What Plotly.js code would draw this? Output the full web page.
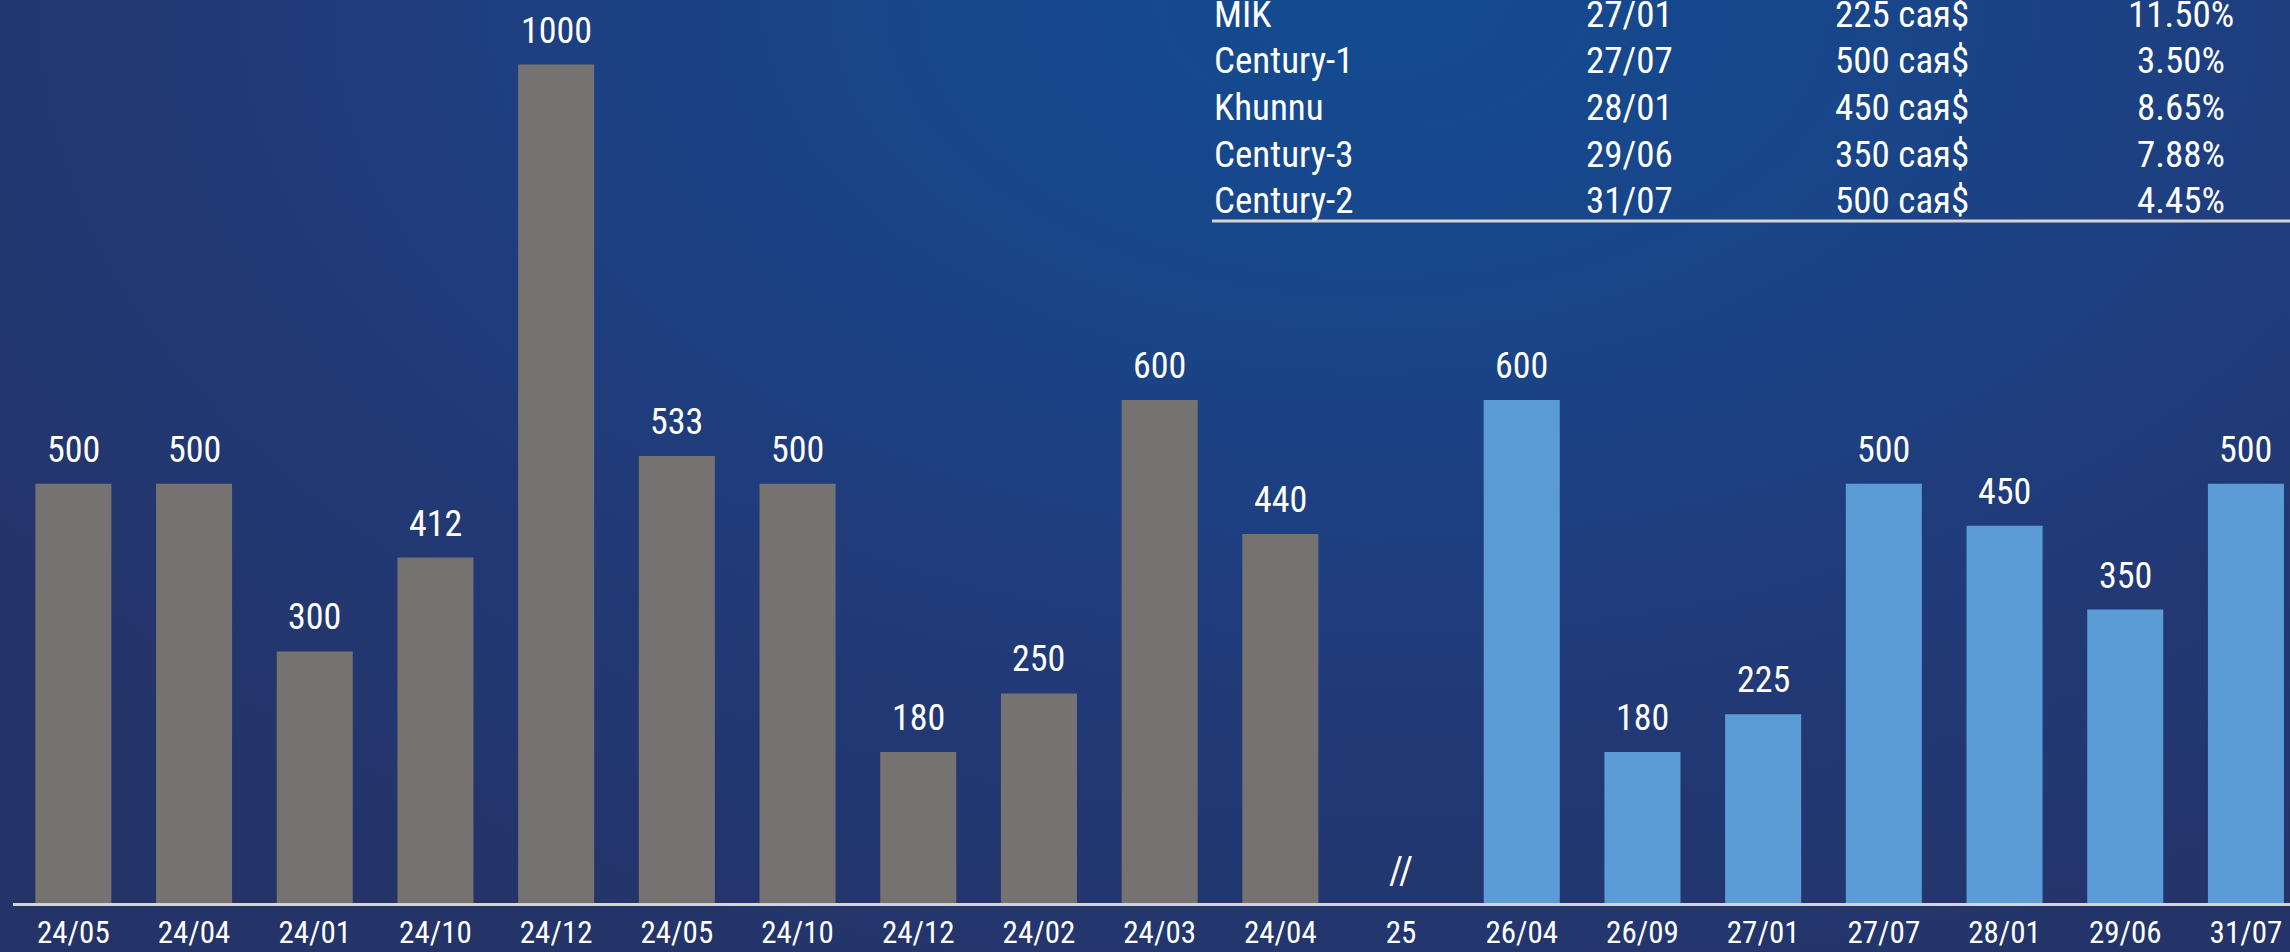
<!DOCTYPE html>
<html>
<head>
<meta charset="utf-8">
<script src="https://cdn.plot.ly/plotly-3.0.1.min.js"></script>
<style>
html, body { margin:0; padding:0; width:2290px; height:952px; overflow:hidden; }
body { background: radial-gradient(ellipse 75% 110% at 60% 0%, #134b91 0%, #1a4488 35%, #213a78 65%, #243469 100%); }
#chart { width:2290px; height:952px; }
</style>
</head>
<body>
<div id="chart"></div>
<script>
// ---- data ----
var tickLabels = ["24/05","24/04","24/01","24/10","24/12","24/05","24/10","24/12","24/02","24/03","24/04","25","26/04","26/09","27/01","27/07","28/01","29/06","31/07"];
var pastIdx = [0,1,2,3,4,5,6,7,8,9,10];
var pastValues = [500,500,300,412,1000,533,500,180,250,600,440];
var futureIdx = [12,13,14,15,16,17,18];
var futureValues = [600,180,225,500,450,350,500];
var breakIdx = 11;
var breakMark = "//";

var tblNames = ["MIK","Century-1","Khunnu","Century-3","Century-2"];
var tblDates = ["27/01","27/07","28/01","29/06","31/07"];
var tblAmounts = ["225 сая$","500 сая$","450 сая$","350 сая$","500 сая$"];
var tblRates = ["11.50%","3.50%","8.65%","7.88%","4.45%"];

// ---- layout helpers ----
var W = 2290, H = 952, ML = 13, MB = 49, MT = 0;
var PW = W - ML, PH = H - MB - MT;
function px2x(px){ return (px - ML) / PW; }
function py2y(py){ return 1 - (py - MT) / PH; }
var FONT = "'Roboto Condensed', 'Liberation Sans Narrow', 'Arial Narrow', Roboto, sans-serif";

var traces = [
  { type:'bar', x: pastIdx, y: pastValues, width: 0.63,
    marker:{ color:'#767271', line:{width:0} }, hoverinfo:'skip' },
  { type:'bar', x: futureIdx, y: futureValues, width: 0.63,
    marker:{ color:'#5b9bd6', line:{width:0} }, hoverinfo:'skip' }
];

var annotations = [];
function addBarLabels(xs, vs){
  for (var i=0;i<xs.length;i++){
    annotations.push({ x: xs[i], y: vs[i], xref:'x', yref:'y', text: String(vs[i]),
      showarrow:false, yanchor:'bottom', xanchor:'center', yshift: 11,
      font:{ family: FONT, size: 36, color:'#ffffff' } });
  }
}
addBarLabels(pastIdx, pastValues);
addBarLabels(futureIdx, futureValues);
annotations.push({ x: breakIdx, y: 0, xref:'x', yref:'y', text: breakMark, showarrow:false,
  yanchor:'bottom', xanchor:'center', yshift: 8, font:{ family: FONT, size: 38, color:'#ffffff' } });

var rowBase = 26.7, rowStep = 46.67, TF = 37;
for (var r=0;r<tblNames.length;r++){
  var yc = py2y(rowBase + r*rowStep - 0.342*TF);
  var f = { family: FONT, size: TF, color:'#ffffff' };
  annotations.push({ xref:'paper', yref:'paper', x: px2x(1212), y: yc, text: tblNames[r], showarrow:false, xanchor:'left', yanchor:'middle', font:f });
  annotations.push({ xref:'paper', yref:'paper', x: px2x(1584), y: yc, text: tblDates[r], showarrow:false, xanchor:'left', yanchor:'middle', font:f });
  annotations.push({ xref:'paper', yref:'paper', x: px2x(1833), y: yc, text: tblAmounts[r], showarrow:false, xanchor:'left', yanchor:'middle', font:f });
  annotations.push({ xref:'paper', yref:'paper', x: px2x(2181), y: yc, text: tblRates[r], showarrow:false, xanchor:'center', yanchor:'middle', font:f });
}

var shapes = [
  { type:'line', xref:'paper', yref:'paper', x0: px2x(1212), x1: 1, y0: py2y(221), y1: py2y(221),
    line:{ color:'#d4d4d4', width:3 } }
];

var layout = {
  width: W, height: H,
  margin: { l: ML, r: 0, t: MT, b: MB, pad: 0 },
  paper_bgcolor: 'rgba(0,0,0,0)', plot_bgcolor: 'rgba(0,0,0,0)',
  barmode: 'overlay', showlegend: false,
  xaxis: { range: [-0.5, -0.5 + PW/120.7], tickmode:'array',
    tickvals: tickLabels.map(function(_, i){ return i; }), ticktext: tickLabels,
    showgrid:false, zeroline:false, showline:true, linecolor:'#d4d4d4', linewidth:3,
    ticks:'', ticklabelstandoff: 0, tickfont:{ family: FONT, size: 31, color:'#ffffff' }, fixedrange:true },
  yaxis: { range: [0, PH/0.8385], visible:false, showgrid:false, zeroline:false, fixedrange:true },
  annotations: annotations, shapes: shapes,
  font: { family: FONT, color:'#ffffff' }
};

Plotly.newPlot('chart', traces, layout, { displayModeBar:false, staticPlot:true });
</script>
</body>
</html>
